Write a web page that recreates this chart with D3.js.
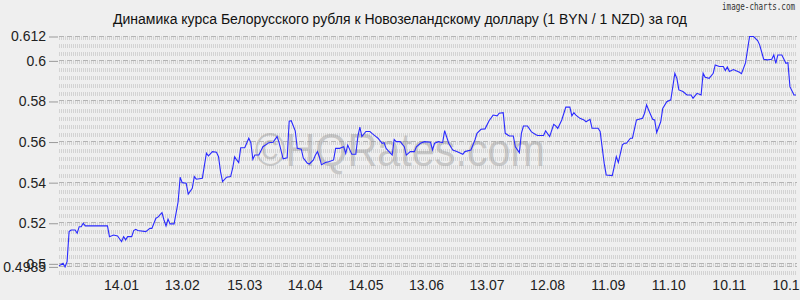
<!DOCTYPE html>
<html>
<head>
<meta charset="utf-8">
<script src="https://cdn.jsdelivr.net/npm/d3@7"></script>
<style>
body { margin: 0; background: #efefef; }
text { font-family: "Liberation Sans", Arial, sans-serif; }
</style>
</head>
<body>
<div id="chart"></div>
<script>
var title = "Динамика курса Белорусского рубля к Новозеландскому доллару (1 BYN / 1 NZD) за год";

var dates = [
  "2023-12-14","2023-12-16","2023-12-17","2023-12-18","2023-12-19","2023-12-20","2023-12-22","2023-12-23","2023-12-24","2023-12-25",
  "2023-12-26","2023-12-27","2024-01-07","2024-01-08","2024-01-10","2024-01-12","2024-01-14","2024-01-15","2024-01-16","2024-01-17",
  "2024-01-19","2024-01-20","2024-01-21","2024-01-22","2024-01-26","2024-01-28","2024-01-29","2024-01-31","2024-02-01","2024-02-03",
  "2024-02-04","2024-02-05","2024-02-06","2024-02-07","2024-02-09","2024-02-11","2024-02-12","2024-02-13","2024-02-15","2024-02-16",
  "2024-02-18","2024-02-19","2024-02-20","2024-02-23","2024-02-25","2024-02-26","2024-02-28","2024-03-01","2024-03-02","2024-03-03",
  "2024-03-04","2024-03-06","2024-03-08","2024-03-09","2024-03-10","2024-03-11","2024-03-12","2024-03-13","2024-03-15","2024-03-17",
  "2024-03-18","2024-03-19","2024-03-20","2024-03-22","2024-03-24","2024-03-27","2024-03-29","2024-03-31","2024-04-01","2024-04-03",
  "2024-04-05","2024-04-06","2024-04-07","2024-04-09","2024-04-10","2024-04-12","2024-04-13","2024-04-15","2024-04-16","2024-04-18",
  "2024-04-19","2024-04-20","2024-04-21","2024-04-22","2024-04-24","2024-04-26","2024-04-28","2024-04-29","2024-05-01","2024-05-03",
  "2024-05-04","2024-05-05","2024-05-07","2024-05-09","2024-05-10","2024-05-11","2024-05-12","2024-05-14","2024-05-16","2024-05-17",
  "2024-05-19","2024-05-20","2024-05-22","2024-05-23","2024-05-24","2024-05-27","2024-05-28","2024-05-29","2024-05-31","2024-06-02",
  "2024-06-03","2024-06-05","2024-06-07","2024-06-08","2024-06-10","2024-06-12","2024-06-15","2024-06-16","2024-06-17","2024-06-19",
  "2024-06-21","2024-06-22","2024-06-24","2024-06-26","2024-06-28","2024-07-01","2024-07-02","2024-07-05","2024-07-07","2024-07-08",
  "2024-07-10","2024-07-12","2024-07-14","2024-07-16","2024-07-18","2024-07-19","2024-07-21","2024-07-22","2024-07-24","2024-07-26",
  "2024-07-27","2024-07-29","2024-07-30","2024-07-31","2024-08-02","2024-08-04","2024-08-06","2024-08-07","2024-08-10","2024-08-11",
  "2024-08-13","2024-08-15","2024-08-16","2024-08-17","2024-08-19","2024-08-21","2024-08-23","2024-08-24","2024-08-25","2024-08-26",
  "2024-08-28","2024-08-30","2024-08-31","2024-09-02","2024-09-03","2024-09-06","2024-09-07","2024-09-09","2024-09-10","2024-09-13",
  "2024-09-14","2024-09-15","2024-09-16","2024-09-18","2024-09-19","2024-09-20","2024-09-22","2024-09-23","2024-09-25","2024-09-28",
  "2024-09-29","2024-09-30","2024-10-01","2024-10-03","2024-10-04","2024-10-05","2024-10-07","2024-10-08","2024-10-10","2024-10-12",
  "2024-10-14","2024-10-15","2024-10-16","2024-10-18","2024-10-20","2024-10-22","2024-10-23","2024-10-25","2024-10-27","2024-10-28",
  "2024-10-29","2024-10-31","2024-11-02","2024-11-03","2024-11-05","2024-11-07","2024-11-08","2024-11-09","2024-11-10","2024-11-12",
  "2024-11-15","2024-11-16","2024-11-18","2024-11-20","2024-11-22","2024-11-24","2024-11-25","2024-11-27","2024-11-29","2024-12-01",
  "2024-12-02","2024-12-03","2024-12-04","2024-12-06","2024-12-08","2024-12-09","2024-12-10","2024-12-12","2024-12-13"
];

var rates = [
  0.4990,0.5003,0.4985,0.5011,0.5159,0.5167,0.5167,0.5151,0.5183,0.5183,
  0.5200,0.5187,0.5187,0.5134,0.5142,0.5137,0.5109,0.5134,0.5118,0.5134,
  0.5134,0.5164,0.5170,0.5164,0.5159,0.5175,0.5175,0.5225,0.5230,0.5252,
  0.5216,0.5187,0.5220,0.5197,0.5197,0.5306,0.5427,0.5400,0.5397,0.5344,
  0.5372,0.5430,0.5417,0.5422,0.5545,0.5532,0.5553,0.5550,0.5528,0.5454,
  0.5405,0.5427,0.5430,0.5471,0.5528,0.5512,0.5499,0.5572,0.5572,0.5619,
  0.5597,0.5515,0.5536,0.5536,0.5577,0.5597,0.5599,0.5627,0.5597,0.5517,
  0.5522,0.5703,0.5705,0.5655,0.5569,0.5565,0.5521,0.5496,0.5492,0.5512,
  0.5536,0.5553,0.5525,0.5488,0.5499,0.5504,0.5512,0.5569,0.5569,0.5577,
  0.5544,0.5585,0.5540,0.5540,0.5627,0.5673,0.5627,0.5652,0.5652,0.5643,
  0.5627,0.5619,0.5594,0.5597,0.5569,0.5536,0.5613,0.5602,0.5602,0.5577,
  0.5536,0.5553,0.5553,0.5577,0.5594,0.5602,0.5599,0.5561,0.5594,0.5602,
  0.5597,0.5656,0.5594,0.5561,0.5553,0.5540,0.5553,0.5561,0.5610,0.5643,
  0.5663,0.5665,0.5705,0.5733,0.5729,0.5742,0.5745,0.5643,0.5630,0.5630,
  0.5577,0.5548,0.5643,0.5679,0.5679,0.5650,0.5637,0.5632,0.5632,0.5655,
  0.5627,0.5687,0.5680,0.5667,0.5709,0.5772,0.5772,0.5729,0.5745,0.5733,
  0.5717,0.5709,0.5700,0.5712,0.5668,0.5668,0.5652,0.5496,0.5438,0.5435,
  0.5479,0.5528,0.5499,0.5586,0.5594,0.5594,0.5619,0.5619,0.5709,0.5717,
  0.5742,0.5783,0.5758,0.5712,0.5709,0.5647,0.5700,0.5766,0.5799,0.5808,
  0.5939,0.5914,0.5857,0.5849,0.5832,0.5832,0.5816,0.5840,0.5832,0.5939,
  0.5919,0.5914,0.5939,0.5980,0.5972,0.5972,0.5952,0.5970,0.5948,0.5957,
  0.5944,0.5937,0.5990,0.6120,0.6120,0.6100,0.6079,0.6008,0.6005,0.6008,
  0.6029,0.5988,0.6029,0.6029,0.5988,0.5991,0.5873,0.5832,0.5832
];

var yTicks = [0.4985, 0.5, 0.52, 0.54, 0.56, 0.58, 0.6, 0.612];
var xTickDates = ["2024-01-14","2024-02-13","2024-03-15","2024-04-14","2024-05-14","2024-06-13",
                  "2024-07-13","2024-08-12","2024-09-11","2024-10-11","2024-11-10","2024-12-10"];
var xTickLabels = ["14.01","13.02","15.03","14.04","14.05","13.06","13.07","12.08","11.09","11.10","10.11","10.12"];

var width = 800, height = 300;
var parse = d3.timeParse("%Y-%m-%d");

var data = dates.map(function(d, i) { return { date: parse(d), rate: rates[i] }; });

var svg = d3.select("#chart")
  .append("svg")
  .attr("width", width)
  .attr("height", height);

svg.append("rect")
  .attr("width", width)
  .attr("height", height)
  .attr("fill", "#efefef");

var x = d3.scaleTime()
  .domain([parse(dates[0]), parse(dates[dates.length - 1])])
  .range([59, 796]);

var y = d3.scaleLinear()
  .domain([0.4985, 0.612])
  .range([266.9, 36.5]);

// striped background rows
var bands = d3.range(0.496, 0.6141, 0.004);
svg.append("g")
  .selectAll("line")
  .data(bands)
  .enter().append("line")
  .attr("x1", 59)
  .attr("x2", 797)
  .attr("y1", function(d) { return Math.round(y(d)) + 1; })
  .attr("y2", function(d) { return Math.round(y(d)) + 1; })
  .attr("stroke", "#d3d3d3")
  .attr("stroke-width", 4)
  .attr("stroke-dasharray", "1,1");

// dashed lines at labelled values
svg.append("g")
  .selectAll("line")
  .data(yTicks)
  .enter().append("line")
  .attr("x1", 59)
  .attr("x2", 797)
  .attr("y1", function(d) { return Math.round(y(d)) - 0.5; })
  .attr("y2", function(d) { return Math.round(y(d)) - 0.5; })
  .attr("stroke", "#b4b4b4")
  .attr("stroke-width", 1)
  .attr("stroke-dasharray", "5,3");

// y axis
var leftAxis = d3.axisLeft(y)
  .tickValues(yTicks)
  .tickFormat(function(d) { return String(d); })
  .tickSize(9)
  .tickPadding(3);

var gy = svg.append("g")
  .attr("transform", "translate(58,0)")
  .call(leftAxis);
gy.select(".domain").remove();
gy.selectAll(".tick line").attr("stroke", "#999");
gy.selectAll(".tick text")
  .attr("fill", "#222")
  .style("font-size", "14px")
  .style("font-family", "'Liberation Sans', Arial, sans-serif");

// x axis labels
var gx = svg.append("g");
gx.selectAll("text")
  .data(xTickDates)
  .enter().append("text")
  .attr("x", function(d) { return x(parse(d)); })
  .attr("y", 290)
  .attr("text-anchor", "middle")
  .attr("fill", "#222")
  .style("font-size", "14px")
  .text(function(d, i) { return xTickLabels[i]; });

// watermark
svg.append("text")
  .attr("x", 255)
  .attr("y", 166)
  .attr("textLength", 290)
  .attr("lengthAdjust", "spacingAndGlyphs")
  .attr("fill", "#999")
  .attr("opacity", 0.45)
  .style("font-size", "46px")
  .text("©HQRates.com");

// line
var line = d3.line()
  .x(function(d) { return x(d.date); })
  .y(function(d) { return y(d.rate); });

svg.append("path")
  .datum(data)
  .attr("fill", "none")
  .attr("stroke", "#2a2aff")
  .attr("stroke-width", 1.1)
  .attr("d", line);

// title
svg.append("text")
  .attr("x", 400)
  .attr("y", 24)
  .attr("text-anchor", "middle")
  .attr("fill", "#111")
  .style("font-size", "14px")
  .text(title);

svg.append("text")
  .attr("x", 795)
  .attr("y", 10)
  .attr("text-anchor", "end")
  .attr("fill", "#333")
  .attr("textLength", 73)
  .attr("lengthAdjust", "spacingAndGlyphs")
  .style("font-size", "10px")
  .style("font-family", "'DejaVu Sans Mono', monospace")
  .text("image-charts.com");
</script>
</body>
</html>
